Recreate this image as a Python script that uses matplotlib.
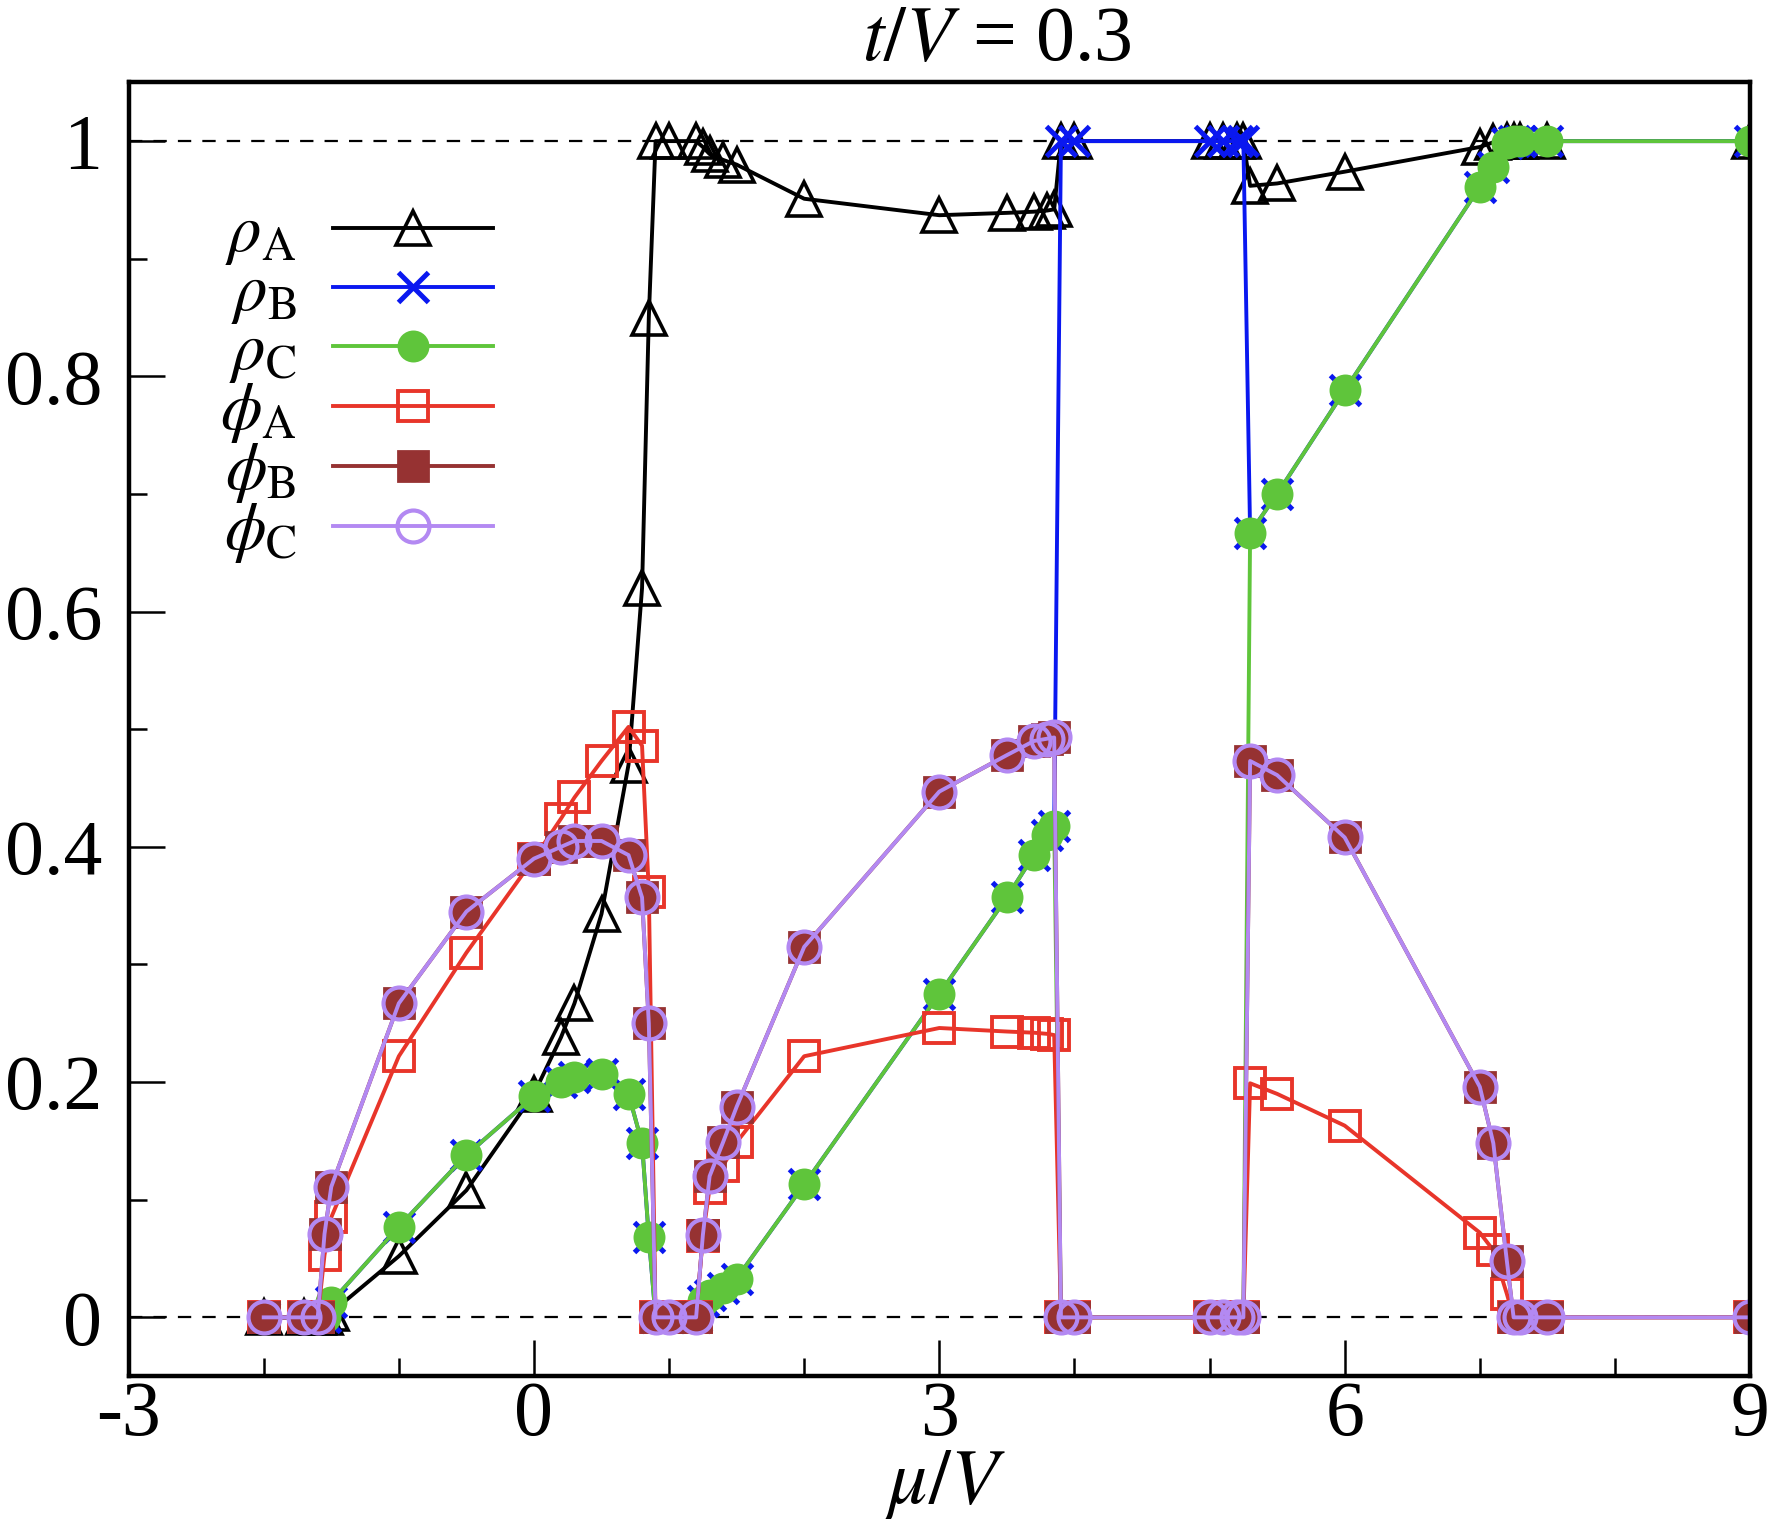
import matplotlib
matplotlib.use("Agg")
import matplotlib.pyplot as plt
from matplotlib.ticker import MultipleLocator

plt.rcParams['font.family'] = 'serif'
plt.rcParams['font.serif'] = ['Liberation Serif', 'DejaVu Serif']
plt.rcParams['mathtext.fontset'] = 'stix'
plt.rcParams['axes.unicode_minus'] = False

# mu/V grid (shared by all series)
mu = [-2, -1.7, -1.6, -1.55, -1.5, -1.0, -0.5, 0, 0.2, 0.3, 0.5, 0.7, 0.8, 0.85,
      0.9, 1.0, 1.2, 1.25, 1.3, 1.4, 1.5, 2, 3, 3.5, 3.7, 3.8, 3.85, 3.9, 4.0,
      5.0, 5.1, 5.2, 5.25, 5.3, 5.5, 6, 7, 7.1, 7.2, 7.25, 7.3, 7.5, 9]

rho_A = [0, 0, 0, 0, 0.004, 0.052, 0.108, 0.19, 0.238, 0.267, 0.343, 0.47, 0.62, 0.85,
         1.0, 1.0, 1.0, 0.995, 0.989, 0.984, 0.98, 0.951, 0.937, 0.939, 0.94, 0.941, 0.942, 1.0, 1.0,
         1.0, 1.0, 1.0, 1.0, 0.962, 0.964, 0.974, 0.995, 0.999, 1.0, 1.0, 1.0, 1.0, 1.0]

rho_C = [0, 0, 0, 0, 0.013, 0.077, 0.138, 0.188, 0.2, 0.204, 0.207, 0.19, 0.148, 0.068,
         0, 0, 0, 0.014, 0.019, 0.025, 0.033, 0.113, 0.275, 0.357, 0.393, 0.41, 0.418, 0, 0,
         0, 0, 0, 0, 0.667, 0.70, 0.788, 0.961, 0.978, 0.998, 1.0, 1.0, 1.0, 1.0]

rho_B = [0, 0, 0, 0, 0.013, 0.077, 0.138, 0.188, 0.2, 0.204, 0.207, 0.19, 0.148, 0.068,
         0, 0, 0, 0.014, 0.019, 0.025, 0.033, 0.113, 0.275, 0.357, 0.393, 0.41, 0.418, 1.0, 1.0,
         1.0, 1.0, 1.0, 1.0, 0.667, 0.70, 0.788, 0.961, 0.978, 0.998, 1.0, 1.0, 1.0, 1.0]

phi_A = [0, 0, 0, 0.053, 0.085, 0.222, 0.31, 0.39, 0.424, 0.442, 0.473, 0.502, 0.486, 0.362,
         0, 0, 0, 0.069, 0.11, 0.129, 0.149, 0.222, 0.246, 0.243, 0.242, 0.241, 0.24, 0, 0,
         0, 0, 0, 0, 0.199, 0.19, 0.163, 0.072, 0.057, 0.02, 0, 0, 0, 0]

phi_C = [0, 0, 0, 0.071, 0.111, 0.267, 0.345, 0.39, 0.40, 0.405, 0.405, 0.393, 0.357, 0.25,
         0, 0, 0, 0.07, 0.12, 0.149, 0.179, 0.315, 0.447, 0.478, 0.49, 0.492, 0.493, 0, 0,
         0, 0, 0, 0, 0.473, 0.461, 0.408, 0.196, 0.148, 0.048, 0, 0, 0, 0]

phi_B = list(phi_C)

fig = plt.figure(figsize=(8.88, 7.62), dpi=200)
ax = fig.add_axes([0.0724, 0.097, 0.913, 0.849])

ax.axhline(0, color='black', lw=0.8, dashes=(6, 5), zorder=0)
ax.axhline(1, color='black', lw=0.8, dashes=(6, 5), zorder=0)

ax.plot(mu, rho_A, color='black', lw=1.4, marker='^', ms=12, mfc='none', mec='black', mew=1.3,
        label=r'$\rho_{\rm A}$')
ax.plot(mu, rho_B, color='#0a18f0', lw=1.4, marker='x', ms=11, mew=1.8,
        label=r'$\rho_{\rm B}$')
ax.plot(mu, rho_C, color='#5fc53b', lw=1.4, marker='o', ms=10.5, mec='#5fc53b',
        label=r'$\rho_{\rm C}$')
ax.plot(mu, phi_A, color='#e8352a', lw=1.4, marker='s', ms=11, mfc='none', mec='#e8352a', mew=1.4,
        label=r'$\phi_{\rm A}$')
ax.plot(mu, phi_B, color='#963232', lw=1.4, marker='s', ms=10.5, mec='#963232', mfc='#963232',
        label=r'$\phi_{\rm B}$')
ax.plot(mu, phi_C, color='#b389f2', lw=1.4, marker='o', ms=11.5, mfc='none', mec='#b389f2', mew=1.5,
        label=r'$\phi_{\rm C}$')

ax.set_xlim(-3, 9)
ax.set_ylim(-0.05, 1.05)
ax.xaxis.set_minor_locator(MultipleLocator(1))
ax.yaxis.set_minor_locator(MultipleLocator(0.1))
ax.set_yticks([0, 0.2, 0.4, 0.6, 0.8, 1.0])
ax.set_yticklabels(['0', '0.2', '0.4', '0.6', '0.8', '1'])
ax.set_xticks([-3, 0, 3, 6, 9])
ax.set_xticklabels(['-3', '0', '3', '6', '9'])

ax.tick_params(which='both', direction='in', top=False, right=False, labelsize=28)
ax.tick_params(which='major', length=13, width=0.9)
ax.tick_params(which='minor', length=6.5, width=0.9)
ax.tick_params(axis='y', pad=9.5)
ax.tick_params(axis='x', pad=1.5)
for s in ax.spines.values():
    s.set_linewidth(1.6)

fig.text(0.561, 0.973, r'$t/V$ = 0.3', fontsize=28, ha='center', va='center')
fig.text(0.532, 0.026, r'$\mu/V$', fontsize=28, ha='center', va='center')

leg = ax.legend(loc='upper right', bbox_to_anchor=(0.225, 0.906), frameon=False, markerfirst=False,
                fontsize=24, handlelength=2.4, handletextpad=0.55, labelspacing=-0.06,
                borderaxespad=0, borderpad=0)

fig.savefig('out.png', dpi=200)
